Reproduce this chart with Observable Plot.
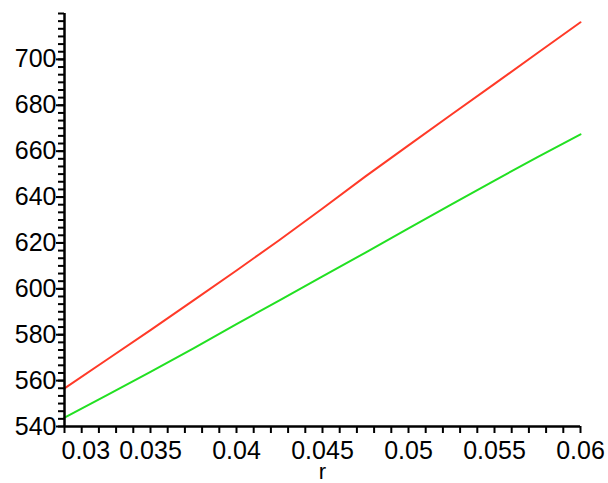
<!DOCTYPE html>
<html>
<head>
<meta charset="utf-8">
<script src="https://cdn.jsdelivr.net/npm/d3@7"></script>
<script src="https://cdn.jsdelivr.net/npm/@observablehq/plot@0.6"></script>
<style>
  html, body { margin: 0; padding: 0; background: #fff; }
  #chart svg { display: block; }
</style>
</head>
<body>
<div id="chart"></div>
<script>
// Data
const rValues = [0.03, 0.0325, 0.035, 0.0375, 0.04, 0.0425, 0.045, 0.0475, 0.05, 0.0525, 0.055, 0.0575, 0.06];
const redSeries = [556.6, 569.3, 582.0, 595.0, 608.0, 621.3, 635.0, 649.0, 662.5, 676.0, 689.3, 702.8, 716.2];
const greenSeries = [543.9, 553.8, 563.8, 574.0, 584.6, 595.0, 605.4, 615.8, 626.3, 636.8, 647.2, 657.4, 667.3];

const xMajorTicks = [0.03, 0.035, 0.04, 0.045, 0.05, 0.055, 0.06];
const xTickLabels = ["0.03", "0.035", "0.04", "0.045", "0.05", "0.055", "0.06"];
const xMinorTicks = d3.range(0, 31).map(i => +(0.03 + i * 0.001).toFixed(4));
const yMajorTicks = [540, 560, 580, 600, 620, 640, 660, 680, 700];
const yMinorTicks = d3.range(0, 55).map(i => 540 + i * 20 / 6);
const xLabel = "r";

const red = rValues.map((r, i) => ({r, v: redSeries[i]}));
const green = rValues.map((r, i) => ({r, v: greenSeries[i]}));
const xLab = xMajorTicks.map((t, i) => ({t, label: xTickLabels[i]}));

const chart = Plot.plot({
  width: 608,
  height: 483,
  marginLeft: 64,
  marginRight: 28,
  marginTop: 13,
  marginBottom: 57,
  style: {fontFamily: "'Liberation Sans', Arial, sans-serif", fontSize: "25px", color: "#000", background: "#fff", overflow: "visible"},
  x: {domain: [0.03, 0.06], axis: null},
  y: {domain: [540, 720], axis: null},
  marks: [
    Plot.line(red, {x: "r", y: "v", stroke: "#ff3a28", strokeWidth: 2}),
    Plot.line(green, {x: "r", y: "v", stroke: "#22e022", strokeWidth: 2}),
    Plot.axisY(yMinorTicks, {anchor: "left", label: null, tickSize: 6, strokeWidth: 2, stroke: "#000", tickFormat: () => ""}),
    Plot.axisY(yMajorTicks, {anchor: "left", label: null, tickSize: 8, strokeWidth: 2, stroke: "#000", tickPadding: 0, fontSize: 25, letterSpacing: "-1px", tickFormat: d => String(d)}),
    Plot.axisX(xMinorTicks, {anchor: "bottom", label: null, tickSize: 7, strokeWidth: 2, stroke: "#000", tickFormat: () => ""}),
    Plot.text(xLab.filter(d => d.t === 0.03), {x: "t", y: () => 540, text: "label", dy: 24, dx: -3, textAnchor: "start", fontSize: 25, letterSpacing: "-1px", fill: "#000"}),
    Plot.text(xLab.filter(d => d.t !== 0.03), {x: "t", y: () => 540, text: "label", dy: 24, textAnchor: "middle", fontSize: 25, letterSpacing: "-1px", fill: "#000"}),
    Plot.ruleX([0.03], {stroke: "#000", strokeWidth: 2.5}),
    Plot.ruleY([540], {stroke: "#000", strokeWidth: 2.5}),
    Plot.text([xLabel], {x: () => 0.045, y: () => 540, text: d => d, dy: 52, lineAnchor: "bottom", fontSize: 22, fill: "#000"})
  ]
});
document.getElementById("chart").appendChild(chart);
</script>
</body>
</html>
